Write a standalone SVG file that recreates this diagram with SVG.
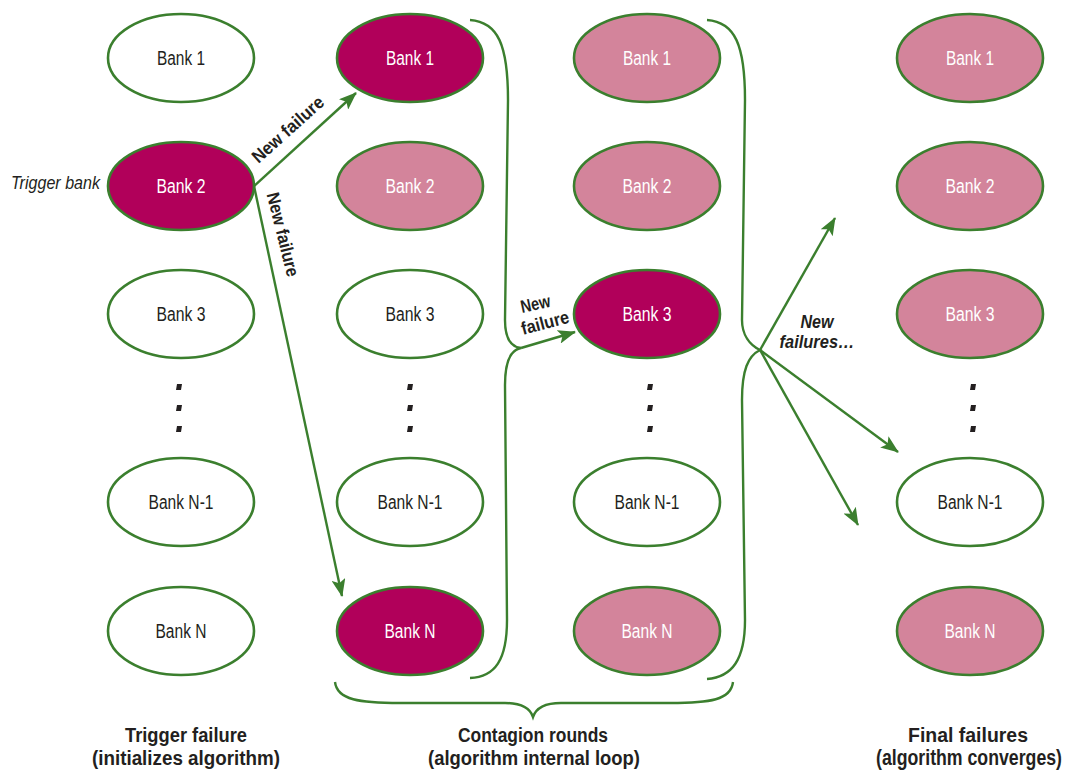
<svg xmlns="http://www.w3.org/2000/svg" width="1070" height="774" viewBox="0 0 1070 774">
<style>
.e{stroke:#3b7f2e;stroke-width:2.6}
.w{fill:#ffffff}
.d{fill:#b1005a}
.l{fill:#d3849b}
.t{font-family:"Liberation Sans",Arial,sans-serif;font-size:20px;text-anchor:middle}
.tw{fill:#ffffff}
.tk{fill:#231f20}
.c{fill:none;stroke:#3b7f2e;stroke-width:2.4}
.lab{font-family:"Liberation Sans",Arial,sans-serif;font-weight:bold;font-size:18px;fill:#231f20}
.cap{font-family:"Liberation Sans",Arial,sans-serif;font-weight:bold;font-size:20px;fill:#231f20;text-anchor:middle}
.dot{fill:#231f20}
</style>
<defs>
<marker id="ah" markerWidth="18" markerHeight="14" refX="17" refY="7" orient="auto" markerUnits="userSpaceOnUse">
<path d="M0,0 L18,7 L0,14 L4,7 Z" fill="#3b7f2e"/>
</marker>
</defs>

<!-- Column 1 -->
<g id="c1-bank1"><ellipse class="e w" cx="181" cy="58" rx="73" ry="44"/><text class="t tk" x="181" y="65" textLength="48" lengthAdjust="spacingAndGlyphs">Bank 1</text></g>
<g id="c1-bank2"><ellipse class="e d" cx="181" cy="186" rx="73" ry="44"/><text class="t tw" x="181" y="193" textLength="49" lengthAdjust="spacingAndGlyphs">Bank 2</text></g>
<g id="c1-bank3"><ellipse class="e w" cx="181" cy="314" rx="73" ry="44"/><text class="t tk" x="181" y="321" textLength="49" lengthAdjust="spacingAndGlyphs">Bank 3</text></g>
<g id="c1-dots"><path class="dot" d="M177,384h5l-1,6h-5zM177,405h5l-1,6h-5zM177,426h5l-1,6h-5z"/></g>
<g id="c1-bankN1"><ellipse class="e w" cx="181" cy="502" rx="73" ry="44"/><text class="t tk" x="181" y="509" textLength="65" lengthAdjust="spacingAndGlyphs">Bank N-1</text></g>
<g id="c1-bankN"><ellipse class="e w" cx="181" cy="631" rx="73" ry="44"/><text class="t tk" x="181" y="638" textLength="51" lengthAdjust="spacingAndGlyphs">Bank N</text></g>

<!-- Column 2 -->
<g id="c2-bank1"><ellipse class="e d" cx="410" cy="58" rx="73" ry="44"/><text class="t tw" x="410" y="65" textLength="48" lengthAdjust="spacingAndGlyphs">Bank 1</text></g>
<g id="c2-bank2"><ellipse class="e l" cx="410" cy="186" rx="73" ry="44"/><text class="t tw" x="410" y="193" textLength="49" lengthAdjust="spacingAndGlyphs">Bank 2</text></g>
<g id="c2-bank3"><ellipse class="e w" cx="410" cy="314" rx="73" ry="44"/><text class="t tk" x="410" y="321" textLength="49" lengthAdjust="spacingAndGlyphs">Bank 3</text></g>
<g id="c2-dots"><path class="dot" d="M408,384h5l-1,6h-5zM408,405h5l-1,6h-5zM408,426h5l-1,6h-5z"/></g>
<g id="c2-bankN1"><ellipse class="e w" cx="410" cy="502" rx="73" ry="44"/><text class="t tk" x="410" y="509" textLength="65" lengthAdjust="spacingAndGlyphs">Bank N-1</text></g>
<g id="c2-bankN"><ellipse class="e d" cx="410" cy="631" rx="73" ry="44"/><text class="t tw" x="410" y="638" textLength="51" lengthAdjust="spacingAndGlyphs">Bank N</text></g>

<!-- Column 3 -->
<g id="c3-bank1"><ellipse class="e l" cx="647" cy="58" rx="73" ry="44"/><text class="t tw" x="647" y="65" textLength="48" lengthAdjust="spacingAndGlyphs">Bank 1</text></g>
<g id="c3-bank2"><ellipse class="e l" cx="647" cy="186" rx="73" ry="44"/><text class="t tw" x="647" y="193" textLength="49" lengthAdjust="spacingAndGlyphs">Bank 2</text></g>
<g id="c3-bank3"><ellipse class="e d" cx="647" cy="314" rx="73" ry="44"/><text class="t tw" x="647" y="321" textLength="49" lengthAdjust="spacingAndGlyphs">Bank 3</text></g>
<g id="c3-dots"><path class="dot" d="M648,384h5l-1,6h-5zM648,405h5l-1,6h-5zM648,426h5l-1,6h-5z"/></g>
<g id="c3-bankN1"><ellipse class="e w" cx="647" cy="502" rx="73" ry="44"/><text class="t tk" x="647" y="509" textLength="65" lengthAdjust="spacingAndGlyphs">Bank N-1</text></g>
<g id="c3-bankN"><ellipse class="e l" cx="647" cy="631" rx="73" ry="44"/><text class="t tw" x="647" y="638" textLength="51" lengthAdjust="spacingAndGlyphs">Bank N</text></g>

<!-- Column 4 -->
<g id="c4-bank1"><ellipse class="e l" cx="970" cy="58" rx="73" ry="44"/><text class="t tw" x="970" y="65" textLength="48" lengthAdjust="spacingAndGlyphs">Bank 1</text></g>
<g id="c4-bank2"><ellipse class="e l" cx="970" cy="186" rx="73" ry="44"/><text class="t tw" x="970" y="193" textLength="49" lengthAdjust="spacingAndGlyphs">Bank 2</text></g>
<g id="c4-bank3"><ellipse class="e l" cx="970" cy="314" rx="73" ry="44"/><text class="t tw" x="970" y="321" textLength="49" lengthAdjust="spacingAndGlyphs">Bank 3</text></g>
<g id="c4-dots"><path class="dot" d="M971,384h5l-1,6h-5zM971,405h5l-1,6h-5zM971,426h5l-1,6h-5z"/></g>
<g id="c4-bankN1"><ellipse class="e w" cx="970" cy="502" rx="73" ry="44"/><text class="t tk" x="970" y="509" textLength="65" lengthAdjust="spacingAndGlyphs">Bank N-1</text></g>
<g id="c4-bankN"><ellipse class="e l" cx="970" cy="631" rx="73" ry="44"/><text class="t tw" x="970" y="638" textLength="51" lengthAdjust="spacingAndGlyphs">Bank N</text></g>

<!-- Connectors -->
<g id="connectors">
<path class="c" d="M254,186 L356,93" marker-end="url(#ah)"/>
<path class="c" d="M254,186 L342,596" marker-end="url(#ah)"/>
<path class="c" d="M470,20 C498,22 508,45 508,100 L505,320 C505,340 512,347 521,348 C510,350 505,362 505,385 L507,620 C507,660 495,677 470,678"/>
<path class="c" d="M521,348 L575,332" marker-end="url(#ah)"/>
<path class="c" d="M707,20 C735,22 745,45 745,100 L742,320 C742,335 750,345 760,350 C748,356 742,370 742,400 L745,620 C745,660 732,677 707,679"/>
<path class="c" d="M760,350 L835,218" marker-end="url(#ah)"/>
<path class="c" d="M760,350 L898,452" marker-end="url(#ah)"/>
<path class="c" d="M760,350 L858,525" marker-end="url(#ah)"/>
<path class="c" d="M335,682 C337,700 360,703 400,703 L505,703 C522,703 530,708 533,717 C536,708 544,703 561,703 L670,703 C710,703 731,700 733,682"/>
</g>

<!-- Labels -->
<g id="labels">
<text class="lab" transform="translate(292,134) rotate(-42)" text-anchor="middle" textLength="90" lengthAdjust="spacingAndGlyphs">New failure</text>
<text class="lab" transform="translate(277,236) rotate(76)" text-anchor="middle" textLength="86" lengthAdjust="spacingAndGlyphs">New failure</text>
<text class="lab" transform="translate(522,313) rotate(-12)" textLength="30" lengthAdjust="spacingAndGlyphs">New</text>
<text class="lab" transform="translate(523,335) rotate(-15)" textLength="49" lengthAdjust="spacingAndGlyphs">failure</text>
<text class="lab" font-style="italic" x="817" y="328" text-anchor="middle" textLength="33" lengthAdjust="spacingAndGlyphs">New</text>
<text class="lab" font-style="italic" x="817" y="348" text-anchor="middle" textLength="75" lengthAdjust="spacingAndGlyphs">failures…</text>
<text font-family="Liberation Sans,Arial,sans-serif" font-style="italic" font-size="18" fill="#231f20" x="100" y="189" text-anchor="end" textLength="89" lengthAdjust="spacingAndGlyphs">Trigger bank</text>
<text class="cap" x="186" y="742" textLength="122" lengthAdjust="spacingAndGlyphs">Trigger failure</text>
<text class="cap" x="186" y="765" textLength="188" lengthAdjust="spacingAndGlyphs">(initializes algorithm)</text>
<text class="cap" x="533" y="742" textLength="150" lengthAdjust="spacingAndGlyphs">Contagion rounds</text>
<text class="cap" x="534" y="765" textLength="212" lengthAdjust="spacingAndGlyphs">(algorithm internal loop)</text>
<text class="cap" x="968" y="742" textLength="120" lengthAdjust="spacingAndGlyphs">Final failures</text>
<text class="cap" transform="translate(969,765) scale(1,1.11)" font-size="18" x="0" y="0" textLength="186" lengthAdjust="spacingAndGlyphs">(algorithm converges)</text>
</g>
</svg>
